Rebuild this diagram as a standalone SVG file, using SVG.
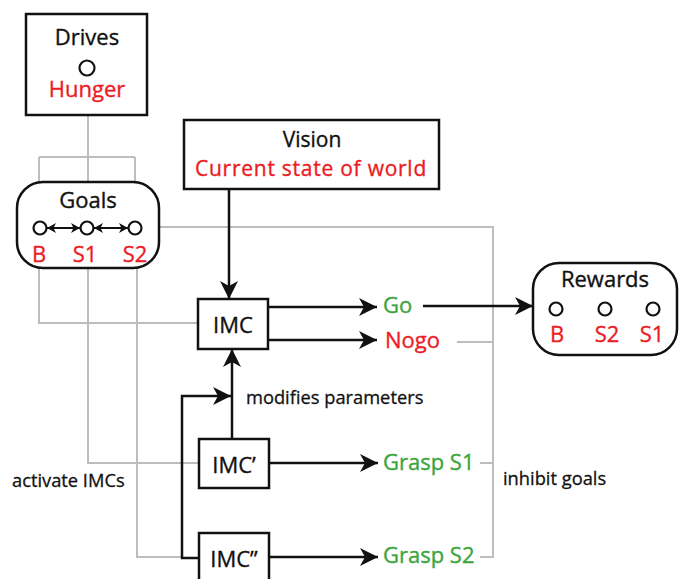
<svg xmlns="http://www.w3.org/2000/svg" width="683" height="579" viewBox="0 0 683 579">
<style>
  .box{fill:#fff;stroke:#111;stroke-width:2.5}
  .circ{fill:#fff;stroke:#111;stroke-width:2.2}
  .t{font-family:"Open Sans","Liberation Sans",sans-serif;font-size:22px;fill:#111;stroke:#111;stroke-width:0.35}
  .s{font-family:"Open Sans","Liberation Sans",sans-serif;font-size:18.3px;fill:#111;stroke:#111;stroke-width:0.3}
  .red{fill:#ec1c24;stroke:#ec1c24}
  .green{fill:#3ca53c;stroke:#3ca53c}
  .mid{text-anchor:middle}
  .blk{fill:none;stroke:#111;stroke-width:2.5}
  .gry{fill:none;stroke:#bdbdbd;stroke-width:2}
  .sm{fill:none;stroke:#111;stroke-width:1.8}
</style>
<defs>
  <marker id="ah" markerUnits="userSpaceOnUse" markerWidth="20" markerHeight="18" refX="18" refY="9" orient="auto">
    <path d="M0,0 L18,9 L0,18 L5,9 Z" fill="#111"/>
  </marker>
  <marker id="ahs" markerUnits="userSpaceOnUse" markerWidth="10" markerHeight="10" refX="9" refY="5" orient="auto-start-reverse">
    <path d="M0,0 L9,5 L0,10 L2.5,5 Z" fill="#111"/>
  </marker>
</defs>

<g id="connectors">
  <!-- gray -->
  <path class="gry" d="M88,115 V157 M39,157 H135 M39,157 V182 M88,157 V182 M135,157 V182"/>
  <path class="gry" d="M39,268 V323 H198"/>
  <path class="gry" d="M88,268 V463 H199"/>
  <path class="gry" d="M137,268 V557 H182"/>
  <path class="gry" d="M159,227 H493 V557 H480"/>
  <path class="gry" d="M457,342 H493 M480,463 H493"/>
  <!-- black -->
  <line class="blk" x1="229" y1="189" x2="229" y2="299" marker-end="url(#ah)"/>
  <line class="blk" x1="268" y1="307" x2="377" y2="307" marker-end="url(#ah)"/>
  <line class="blk" x1="268" y1="340" x2="377" y2="340" marker-end="url(#ah)"/>
  <line class="blk" x1="423" y1="306" x2="533" y2="306" marker-end="url(#ah)"/>
  <line class="blk" x1="232" y1="439" x2="232" y2="349" marker-end="url(#ah)"/>
  <path class="blk" d="M199,558 H182 V396 H231" marker-end="url(#ah)"/>
  <line class="blk" x1="269" y1="463" x2="378" y2="463" marker-end="url(#ah)"/>
  <line class="blk" x1="269" y1="557" x2="378" y2="557" marker-end="url(#ah)"/>
</g>

<g id="drives">
  <rect class="box" x="26" y="14" width="121" height="101"/>
  <text class="t mid" x="87" y="45">Drives</text>
  <circle class="circ" cx="87" cy="68" r="7.5"/>
  <text class="t mid red" x="87" y="97">Hunger</text>
</g>

<g id="goals">
  <rect class="box" x="17" y="182" width="142" height="86" rx="26" ry="26"/>
  <text class="t mid" x="88" y="208">Goals</text>
  <circle class="circ" cx="40" cy="228" r="6.5"/>
  <circle class="circ" cx="87" cy="228" r="6.5"/>
  <circle class="circ" cx="135" cy="228" r="6.5"/>
  <line class="sm" x1="47" y1="228" x2="80" y2="228" marker-start="url(#ahs)" marker-end="url(#ahs)"/>
  <line class="sm" x1="94" y1="228" x2="128" y2="228" marker-start="url(#ahs)" marker-end="url(#ahs)"/>
  <text class="t mid red" x="39" y="262">B</text>
  <text class="t mid red" x="85" y="262">S1</text>
  <text class="t mid red" x="135" y="262">S2</text>
</g>

<g id="vision">
  <rect class="box" x="184" y="120" width="255" height="69"/>
  <text class="t mid" x="312" y="147" style="font-size:21px">Vision</text>
  <text class="t mid red" x="311" y="176" style="font-size:21px;letter-spacing:0.75px">Current state of world</text>
</g>

<g id="imc">
  <rect class="box" x="198" y="299" width="70" height="50"/>
  <text class="t mid" x="233" y="333">IMC</text>
</g>

<g id="go"><text class="t green" x="383" y="313">Go</text></g>
<g id="nogo"><text class="t red" x="385" y="348">Nogo</text></g>

<g id="rewards">
  <rect class="box" x="533" y="263" width="144" height="92" rx="26" ry="26"/>
  <text class="t mid" x="605" y="287">Rewards</text>
  <circle class="circ" cx="556" cy="309" r="6.5"/>
  <circle class="circ" cx="605" cy="309" r="6.5"/>
  <circle class="circ" cx="653" cy="309" r="6.5"/>
  <text class="t mid red" x="557" y="342">B</text>
  <text class="t mid red" x="607" y="342">S2</text>
  <text class="t mid red" x="652" y="342">S1</text>
</g>

<g id="modifies"><text class="s" x="246" y="404">modifies parameters</text></g>

<g id="imc1">
  <rect class="box" x="199" y="439" width="70" height="49"/>
  <text class="t mid" x="234" y="473">IMC’</text>
</g>

<g id="imc2">
  <rect class="box" x="199" y="533" width="70" height="60"/>
  <text class="t mid" x="234" y="567">IMC”</text>
</g>

<g id="grasp1"><text class="t green" x="383" y="470">Grasp S1</text></g>
<g id="grasp2"><text class="t green" x="383" y="563">Grasp S2</text></g>

<g id="activate"><text class="s" x="12" y="487">activate IMCs</text></g>
<g id="inhibit"><text class="s" x="503" y="485">inhibit goals</text></g>
</svg>
